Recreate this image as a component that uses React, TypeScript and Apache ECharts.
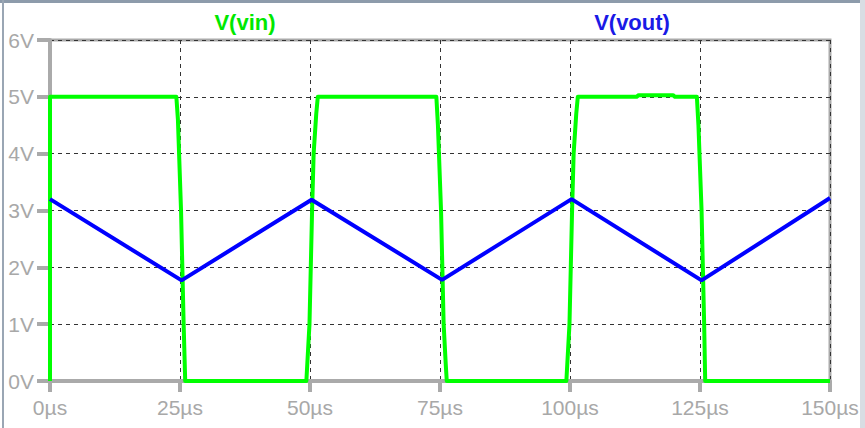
import React, { useEffect, useRef } from "react";
import * as echarts from "echarts";

const xTicks = [0, 25, 50, 75, 100, 125, 150];
const yTicks = [0, 1, 2, 3, 4, 5, 6];

// V(vin) samples: time (µs), voltage (V)
const vinT = [0, 0, 24.3, 24.6, 25.2, 25.7, 26.0, 49.3, 49.9, 50.4, 50.7, 51.2, 51.5, 74.3, 74.6, 75.2, 75.7, 76.1, 76.3, 99.3, 99.9, 100.4, 100.7, 101.2, 101.5, 112.8, 113.2, 119.8, 120.2, 124.4, 124.7, 125.3, 125.8, 126.0, 150];
const vinV = [0, 5, 5, 4.6, 3, 1, 0, 0, 1, 3, 4, 4.7, 5, 5, 4.5, 3, 1, 0.3, 0, 0, 1, 3, 4, 4.7, 5, 5, 5.03, 5.03, 5, 5, 4.5, 3, 1, 0, 0];

// V(vout) samples
const voutT = [0, 25.3, 50.3, 75.4, 100.3, 125.3, 150];
const voutV = [3.2, 1.77, 3.19, 1.78, 3.2, 1.77, 3.22];

const zip = (a: number[], b: number[]) => a.map((t, i) => [t, b[i]]);

export default function App() {
  const ref = useRef<HTMLDivElement>(null);
  useEffect(() => {
    document.body.style.margin = "0";
    const chart = echarts.init(ref.current!, null, { renderer: "svg" });
    const font = "'Liberation Sans', Arial, sans-serif";
    chart.setOption({
      animation: false,
      backgroundColor: "#ffffff",
      grid: { left: 50, right: 35, top: 40, bottom: 47, show: true, borderColor: "#aaaaaa", borderWidth: 3, backgroundColor: "transparent" },
      xAxis: {
        type: "value",
        min: 0,
        max: 150,
        interval: 25,
        axisLine: { show: true, lineStyle: { color: "#aaaaaa", width: 4 } },
        axisTick: { show: true, length: 11, lineStyle: { color: "#aaaaaa", width: 4 } },
        axisLabel: { formatter: (v: number) => `${v}µs`, color: "#a8a8a8", fontSize: 21, fontFamily: font, margin: 16 },
        splitLine: { show: true, lineStyle: { color: "#333333", width: 1, type: [4, 4] } },
      },
      yAxis: {
        type: "value",
        min: 0,
        max: 6,
        interval: 1,
        axisLine: { show: true, lineStyle: { color: "#aaaaaa", width: 4 } },
        axisTick: { show: true, length: 13, lineStyle: { color: "#aaaaaa", width: 4 } },
        axisLabel: { formatter: (v: number) => `${v}V`, color: "#a8a8a8", fontSize: 21, fontFamily: font, margin: 16 },
        splitLine: { show: true, lineStyle: { color: "#333333", width: 1, type: [4, 4] } },
      },
      graphic: [
        { type: "rect", shape: { x: 0, y: 0, width: 865, height: 3 }, style: { fill: "#8d9bab" } },
        { type: "rect", shape: { x: 2, y: 0, width: 2, height: 428 }, style: { fill: "#9aa6b4" } },
        { type: "rect", shape: { x: 860, y: 0, width: 5, height: 428 }, style: { fill: "#d8dde3" } },
        { type: "text", x: 245, y: 22, style: { text: "V(vin)", fill: "#00e800", font: `bold 22px ${font}`, textAlign: "center", textVerticalAlign: "middle" } },
        { type: "text", x: 632, y: 22, style: { text: "V(vout)", fill: "#1a1ae6", font: `bold 22px ${font}`, textAlign: "center", textVerticalAlign: "middle" } },
      ],
      series: [
        {
          name: "V(vin)",
          type: "line",
          data: zip(vinT, vinV),
          showSymbol: false,
          lineStyle: { color: "#00ff00", width: 4, join: "round" },
          itemStyle: { color: "#00ff00" },
          z: 3,
        },
        {
          name: "V(vout)",
          type: "line",
          data: zip(voutT, voutV),
          showSymbol: false,
          lineStyle: { color: "#0000ff", width: 4 },
          itemStyle: { color: "#0000ff" },
          z: 4,
        },
      ],
    });
    return () => chart.dispose();
  }, []);
  return <div ref={ref} style={{ width: 865, height: 428, position: "fixed", left: 0, top: 0 }} />;
}
